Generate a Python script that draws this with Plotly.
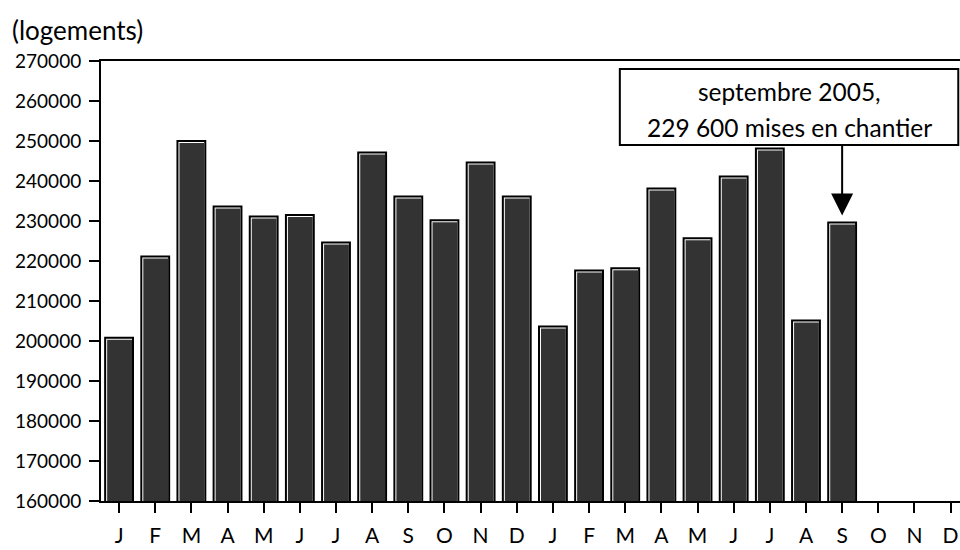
import plotly.graph_objects as go

months = ["J", "F", "M", "A", "M", "J", "J", "A", "S", "O", "N", "D",
          "J", "F", "M", "A", "M", "J", "J", "A", "S", "O", "N", "D"]
values = [200800, 221100, 250000, 233600, 231100, 231500, 224600, 247100,
          236100, 230200, 244600, 236100, 203600, 217600, 218200, 238100,
          225700, 241100, 248100, 205100, 229600]
y_ticks = [160000, 170000, 180000, 190000, 200000, 210000, 220000, 230000,
           240000, 250000, 260000, 270000]
note_lines = ["septembre 2005,", "229 600 mises en chantier"]
unit_label = "(logements)"

FONT = "Lato"
x_idx = list(range(len(months)))
bar_x = x_idx[:len(values)]
last = len(values) - 1

BAR_W = 0.77
PX_X = 1 / 36.2      # one pixel in category units (approx.)
PX_Y = 250           # one pixel in value units (approx.)

fig = go.Figure()
# outer bar: black outline with white interior (gives the white highlight)
fig.add_trace(go.Bar(
    x=bar_x, y=values, width=BAR_W,
    marker=dict(color="white", line=dict(color="black", width=2)),
    showlegend=False, hoverinfo="x+y",
))
# inner dark fill, inset from top/left to leave a thin white highlight
fig.add_trace(go.Bar(
    x=bar_x, y=[v - 2 * PX_Y for v in values],
    width=BAR_W - 3 * PX_X, offset=-BAR_W / 2 + 2 * PX_X,
    marker=dict(color="#333333", line=dict(width=0)),
    showlegend=False, hoverinfo="skip",
))

fig.update_layout(
    width=960, height=550,
    barmode="overlay",
    margin=dict(l=101, r=0, t=61, b=49),
    paper_bgcolor="white", plot_bgcolor="white",
    font=dict(family=FONT, size=19, color="black"),
    xaxis=dict(
        range=[-0.5, 23.26], tickmode="array", tickvals=x_idx, ticktext=months,
        showline=True, linecolor="black", linewidth=2, mirror=True,
        ticks="outside", ticklen=10, tickwidth=2, tickcolor="black",
        showgrid=False, zeroline=False, tickfont=dict(size=21),
        ticklabelstandoff=5,
    ),
    yaxis=dict(
        range=[160000, 270000], tickmode="array", tickvals=y_ticks,
        ticktext=[str(v) for v in y_ticks],
        showline=True, linecolor="black", linewidth=2, mirror=False,
        ticks="outside", ticklen=10, tickwidth=2, tickcolor="black",
        showgrid=False, zeroline=False, tickfont=dict(size=19),
        ticklabelstandoff=4,
    ),
    shapes=[dict(type="rect", xref="paper", yref="paper",
                 x0=0.604, x1=0.998, y0=0.809, y1=0.982,
                 line=dict(color="black", width=2), fillcolor="white",
                 layer="above")],
)

box_cx = (0.604 + 0.998) / 2
fig.add_annotation(x=box_cx, y=(501 - 91) / 440, xref="paper", yref="paper",
                   xanchor="center", yanchor="middle",
                   text=note_lines[0], showarrow=False, font=dict(size=24.5))
fig.add_annotation(x=box_cx, y=(501 - 128) / 440, xref="paper", yref="paper",
                   xanchor="center", yanchor="middle",
                   text=note_lines[1], showarrow=False, font=dict(size=24.5))
fig.add_annotation(x=bar_x[last], y=values[last], xref="x", yref="y",
                   text="", showarrow=True, ax=0, ay=-78,
                   arrowhead=2, arrowsize=2.2, arrowwidth=2, arrowcolor="black",
                   standoff=7)
fig.add_annotation(x=(10 - 101) / 859, y=(501 - 30) / 440, xref="paper", yref="paper",
                   xanchor="left", yanchor="middle", text=unit_label,
                   showarrow=False, font=dict(size=26))

fig.write_html("out.html")
